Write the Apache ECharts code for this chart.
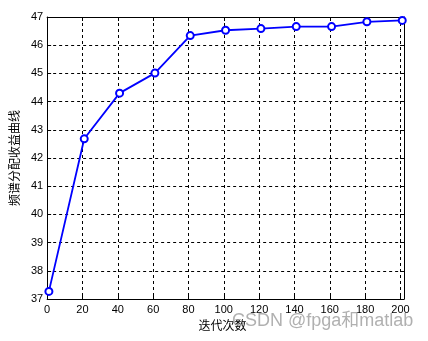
<!DOCTYPE html>
<html>
<head>
<meta charset="utf-8">
<script src="https://cdn.jsdelivr.net/npm/echarts@6/dist/echarts.min.js"></script>
<style>html,body{margin:0;padding:0;background:#fff;}#c{width:428px;height:341px;}</style>
</head>
<body>
<div id="c"></div>
<script>
const iterations = [1, 21, 41, 61, 81, 101, 121, 141, 161, 181, 201];
const gains = [37.27, 42.68, 44.30, 45.01, 46.34, 46.53, 46.59, 46.66, 46.66, 46.83, 46.88];
const xLabel = '迭代次数';
const yLabel = '频谱分配收益曲线';
const watermark = 'CSDN @fpga和matlab';

const chart = echarts.init(document.getElementById('c'), null, {renderer: 'canvas'});
const font = 'Liberation Sans, Arial, sans-serif';
const axisLine = {show: true, onZero: false, lineStyle: {color: '#000', width: 1}};
const tickIn = {show: true, inside: true, length: 4, lineStyle: {color: '#000'}};
const grid = {type: [3, 3], color: '#000', width: 1};
chart.setOption({
  animation: false,
  backgroundColor: '#fff',
  grid: {left: 47, right: 24, top: 17, bottom: 42, containLabel: false},
  xAxis: [{
    type: 'value', min: 0, max: 202, interval: 20, position: 'bottom',
    name: xLabel, nameLocation: 'middle', nameGap: 16,
    nameTextStyle: {color: '#000', fontSize: 12, fontFamily: 'Noto Sans CJK SC', padding: [0, 6, 0, 0]},
    axisLine: axisLine, axisTick: tickIn,
    axisLabel: {color: '#000', fontSize: 11, fontFamily: font, margin: 5,
      formatter: v => (v % 20 === 0 ? String(v) : '')},
    splitLine: {show: true, lineStyle: grid}
  }, {
    type: 'value', min: 0, max: 202, interval: 20, position: 'top',
    axisLine: axisLine, axisTick: tickIn, axisLabel: {show: false}, splitLine: {show: false}
  }],
  yAxis: [{
    type: 'value', min: 37, max: 47, interval: 1, position: 'left',
    name: yLabel, nameLocation: 'middle', nameGap: 27, nameRotate: 90,
    nameTextStyle: {color: '#000', fontSize: 12, fontFamily: 'Noto Sans CJK SC'},
    axisLine: axisLine, axisTick: tickIn,
    axisLabel: {color: '#000', fontSize: 11, fontFamily: font, margin: 4},
    splitLine: {show: true, lineStyle: grid}
  }, {
    type: 'value', min: 37, max: 47, interval: 1, position: 'right',
    axisLine: axisLine, axisTick: tickIn, axisLabel: {show: false}, splitLine: {show: false}
  }],
  series: [{
    type: 'line',
    data: iterations.map((x, i) => [x, gains[i]]),
    lineStyle: {color: '#0000ff', width: 1.8},
    symbol: 'emptyCircle', symbolSize: 7,
    itemStyle: {color: '#0000ff', borderColor: '#0000ff', borderWidth: 1.3},
    z: 5
  }],
  graphic: [{
    type: 'text', left: 232, top: 312, z: 100,
    style: {text: watermark, fontSize: 18, fontFamily: 'Liberation Sans, Arial, Noto Sans CJK SC',
      fill: 'rgba(150,150,150,0.75)'}
  }]
});
</script>
</body>
</html>
